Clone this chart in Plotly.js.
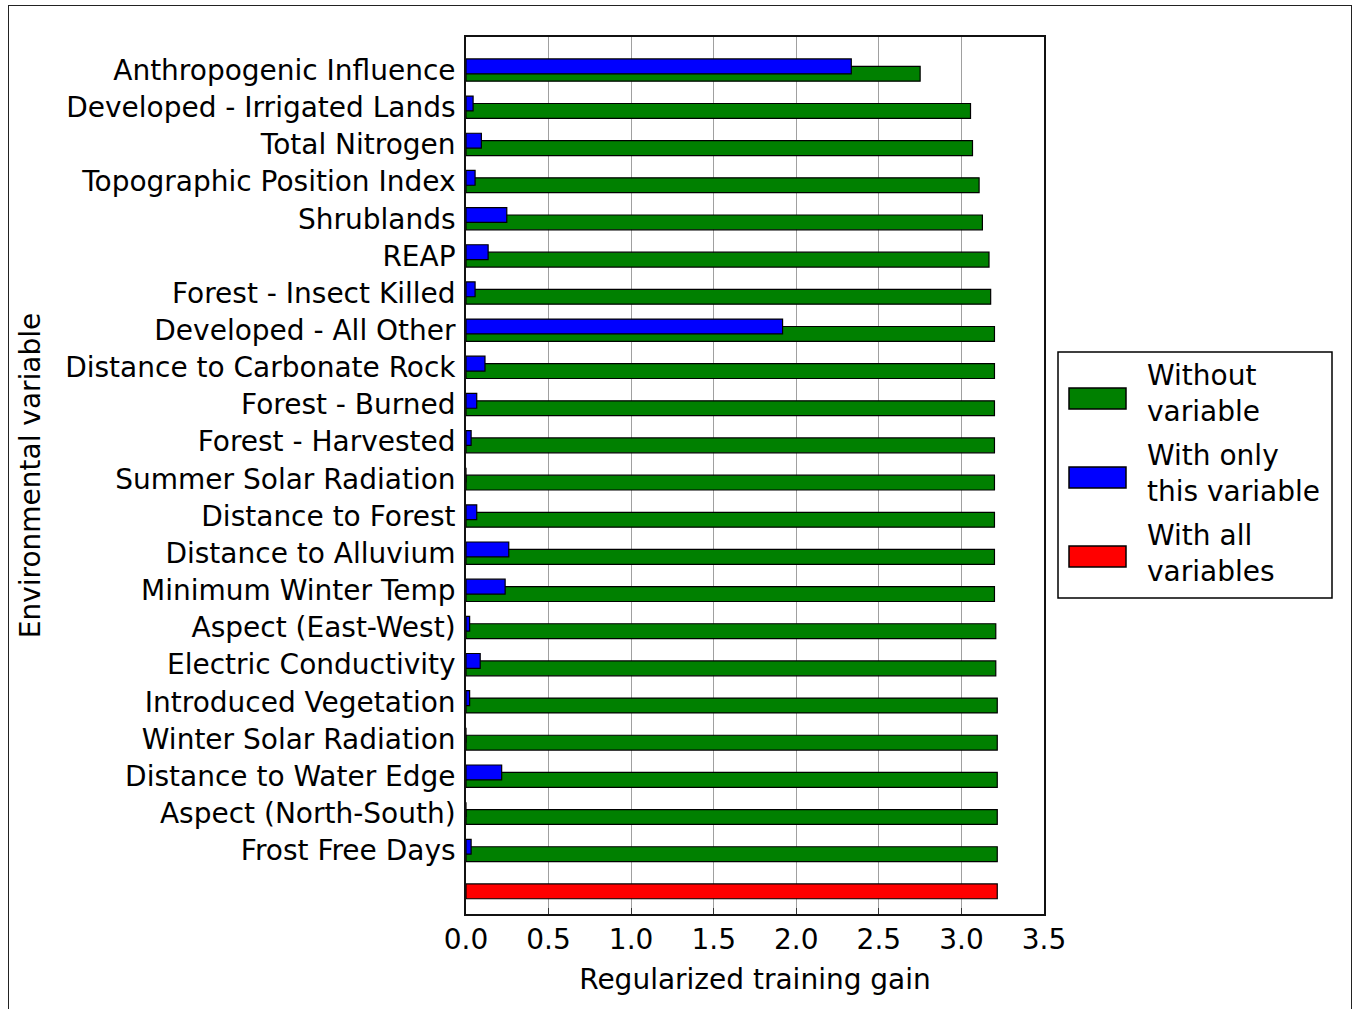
<!DOCTYPE html>
<html>
<head>
<meta charset="utf-8">
<script src="https://cdn.plot.ly/plotly-3.0.1.min.js"></script>
<style>
  html, body { margin: 0; padding: 0; background: #fff; }
  #wrap { position: relative; width: 1354px; height: 1009px; overflow: hidden; }
  #frame { position: absolute; left: 8px; top: 5px; width: 1344px; height: 1020px; border: 1.5px solid #222; box-sizing: border-box; pointer-events: none; }
  #chart { position: absolute; left: 0; top: 0; width: 1354px; height: 1009px; }
</style>
</head>
<body>
<div id="wrap">
  <div id="chart"></div>
  <div id="frame"></div>
</div>
<script>
const categories = [
  "Anthropogenic Influence",
  "Developed - Irrigated Lands",
  "Total Nitrogen",
  "Topographic Position Index",
  "Shrublands",
  "REAP",
  "Forest - Insect Killed",
  "Developed - All Other",
  "Distance to Carbonate Rock",
  "Forest - Burned",
  "Forest - Harvested",
  "Summer Solar Radiation",
  "Distance to Forest",
  "Distance to Alluvium",
  "Minimum Winter Temp",
  "Aspect (East-West)",
  "Electric Conductivity",
  "Introduced Vegetation",
  "Winter Solar Radiation",
  "Distance to Water Edge",
  "Aspect (North-South)",
  "Frost Free Days"
];
const withoutVariable = [2.75, 3.055, 3.067, 3.107, 3.127, 3.167, 3.177, 3.20, 3.20, 3.20, 3.20, 3.20, 3.20, 3.20, 3.20, 3.208, 3.208, 3.217, 3.217, 3.217, 3.217, 3.217];
const withOnlyVariable = [2.333, 0.043, 0.093, 0.055, 0.247, 0.134, 0.055, 1.917, 0.115, 0.065, 0.031, 0.0, 0.065, 0.259, 0.237, 0.022, 0.086, 0.022, 0.0, 0.216, 0.0, 0.031];
const withAllVariables = [3.217];
const xTickVals = [0, 0.5, 1.0, 1.5, 2.0, 2.5, 3.0, 3.5];
const legendLabels = ["Without<br>variable", "With only<br>this variable", "With all<br>variables"];
const seriesColors = ["#008000", "#0000ff", "#ff0000"];

const FONT = "DejaVu Sans, sans-serif";
const FS = 28;
const idx = categories.map((_, i) => i);
const lineStyle = { color: "#000", width: 1.2 };

const traces = [
  {
    type: "bar", orientation: "h", name: "Without variable",
    x: withoutVariable, y: idx.map(i => i + 0.1), width: 0.4,
    marker: { color: seriesColors[0], line: lineStyle }, hoverinfo: "x"
  },
  {
    type: "bar", orientation: "h", name: "With only this variable",
    x: withOnlyVariable, y: idx.map(i => i - 0.1), width: 0.4,
    marker: { color: seriesColors[1], line: lineStyle }, hoverinfo: "x"
  },
  {
    type: "bar", orientation: "h", name: "With all variables",
    x: withAllVariables, y: [categories.length + 0.1], width: 0.4,
    marker: { color: seriesColors[2], line: lineStyle }, hoverinfo: "x"
  }
];

// manual legend (paper coords relative to plot area)
const L = 466, R = 1044, T = 37, B = 914;
const px = v => (v - L) / (R - L);
const py = v => (B - v) / (B - T);
const shapes = [
  { type: "rect", xref: "paper", yref: "paper", x0: px(1058), x1: px(1332), y0: py(598), y1: py(352),
    line: { color: "#000", width: 1.5 }, fillcolor: "rgba(255,255,255,1)" }
];
const patchY = [[388, 409], [467, 488], [546, 567]];
const textY = [393, 473, 553];
const annotations = [];
legendLabels.forEach((lab, k) => {
  shapes.push({ type: "rect", xref: "paper", yref: "paper", x0: px(1069), x1: px(1126),
    y0: py(patchY[k][1]), y1: py(patchY[k][0]), line: { color: "#000", width: 1.5 }, fillcolor: seriesColors[k] });
  annotations.push({ xref: "paper", yref: "paper", x: px(1145), y: py(textY[k]), xanchor: "left", yanchor: "middle",
    text: lab, showarrow: false, align: "left", font: { family: FONT, size: FS, color: "#000" } });
});

const layout = {
  width: 1354, height: 1009,
  margin: { l: L, r: 1354 - R, t: T, b: 1009 - B, pad: 0 },
  paper_bgcolor: "rgba(0,0,0,0)", plot_bgcolor: "#fff",
  barmode: "overlay",
  showlegend: false,
  font: { family: FONT, size: FS, color: "#000" },
  xaxis: {
    range: [0, 3.5], tickvals: xTickVals, ticktext: xTickVals.map(v => v.toFixed(1)),
    showgrid: true, gridcolor: "#a0a0a0", gridwidth: 1,
    showline: true, linecolor: "#111", linewidth: 1.8, mirror: true,
    ticks: "inside", ticklen: 6, tickcolor: "#333", zeroline: false,
    tickfont: { family: FONT, size: FS, color: "#000" },
    title: { text: "Regularized training gain", font: { family: FONT, size: FS, color: "#000" }, standoff: 14 },
    automargin: false
  },
  yaxis: {
    range: [categories.length + 0.71, -0.89],
    tickvals: idx, ticktext: categories,
    showgrid: false, showline: true, linecolor: "#111", linewidth: 1.8, mirror: true,
    ticks: "", zeroline: false, ticklabelstandoff: 3,
    tickfont: { family: FONT, size: FS, color: "#000" },
    title: { text: "Environmental variable", font: { family: FONT, size: FS, color: "#000" }, standoff: 16 },
    automargin: false
  },
  shapes: shapes,
  annotations: annotations
};

Plotly.newPlot("chart", traces, layout, { staticPlot: true, displayModeBar: false });
</script>
</body>
</html>
